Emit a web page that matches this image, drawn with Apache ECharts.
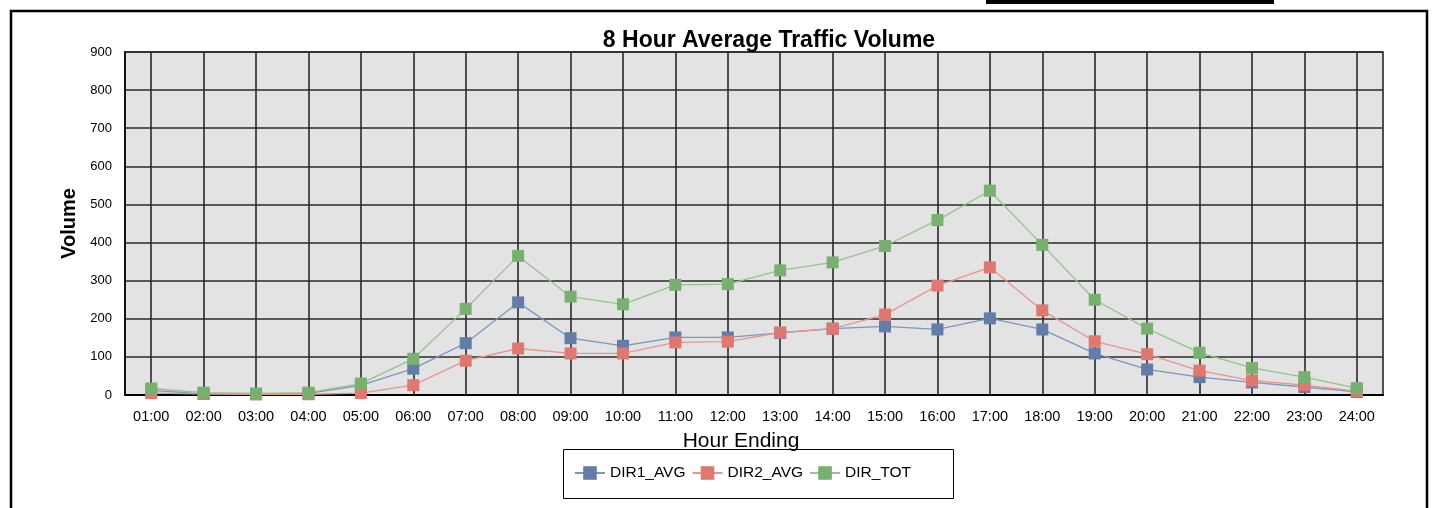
<!DOCTYPE html>
<html>
<head>
<meta charset="utf-8">
<title>8 Hour Average Traffic Volume</title>
<script src="https://cdn.jsdelivr.net/npm/echarts@6/dist/echarts.min.js"></script>
<style>
  html, body { margin: 0; padding: 0; background: #ffffff; }
  #chart { width: 1432px; height: 508px; }
</style>
</head>
<body>
<div id="chart"></div>
<script>
// Hour-ending categories
const hours = ['01:00','02:00','03:00','04:00','05:00','06:00','07:00','08:00',
               '09:00','10:00','11:00','12:00','13:00','14:00','15:00','16:00',
               '17:00','18:00','19:00','20:00','21:00','22:00','23:00','24:00'];

// Average volume per direction and the combined total
const dir1Avg = [12, 3, 2, 4, 25, 69, 136, 243, 149, 129, 151, 151, 163, 174, 180, 172, 201, 172, 109, 67, 47, 33, 21, 8];
const dir2Avg = [5, 3, 2, 2, 5, 26, 90, 122, 109, 109, 138, 140, 164, 174, 211, 287, 335, 222, 141, 107, 64, 38, 26, 10];
const dirTot  = [17, 6, 4, 6, 30, 95, 226, 365, 258, 238, 289, 291, 327, 348, 391, 459, 536, 394, 250, 174, 111, 71, 47, 18];

// Volume axis ticks
const yMin = 0, yMax = 900, yStep = 100;

const FONT = '"Liberation Sans", Arial, sans-serif';

function lineSeries(name, data, markerColor, lineColor) {
  return {
    name: name,
    type: 'line',
    data: data,
    symbol: 'rect',
    symbolSize: 12,
    itemStyle: { color: markerColor },
    lineStyle: { color: lineColor, width: 1.3 },
    emphasis: { disabled: true },
    animation: false
  };
}

const chart = echarts.init(document.getElementById('chart'), null, { renderer: 'canvas' });

chart.setOption({
  backgroundColor: '#ffffff',
  animation: false,
  title: {
    text: '8 Hour Average Traffic Volume',
    left: 764,
    textAlign: 'center',
    top: 24,
    textStyle: { fontFamily: FONT, fontSize: 23, fontWeight: 'bold', color: '#000' }
  },
  grid: {
    left: 125, right: 49, top: 52, bottom: 113,
    show: true,
    backgroundColor: '#e3e3e3',
    borderColor: '#1a1a1a',
    borderWidth: 1.5
  },
  legend: {
    left: 574,
    top: 465,
    itemWidth: 30,
    itemHeight: 17,
    itemGap: 6,
    padding: 0,
    textStyle: { fontFamily: FONT, fontSize: 15.5, color: '#000' },
    data: ['DIR1_AVG', 'DIR2_AVG', 'DIR_TOT']
  },
  xAxis: {
    type: 'category',
    data: hours,
    boundaryGap: true,
    name: 'Hour Ending',
    nameLocation: 'middle',
    nameGap: 36,
    nameTextStyle: { fontFamily: FONT, fontSize: 21, color: '#000', padding: [0, 26, 0, 0] },
    axisLine: { show: true, lineStyle: { color: '#000', width: 2 } },
    axisTick: { show: false },
    axisLabel: { interval: 0, margin: 14, fontFamily: FONT, fontSize: 14.5, color: '#000' },
    splitLine: { show: true, interval: 0, alignWithLabel: true, lineStyle: { color: '#2a2a2a', width: 1.6 } }
  },
  yAxis: {
    type: 'value',
    min: yMin,
    max: yMax,
    interval: yStep,
    name: 'Volume',
    nameLocation: 'middle',
    nameGap: 45,
    nameTextStyle: { fontFamily: FONT, fontSize: 20, fontWeight: 'bold', color: '#000' },
    axisLine: { show: true, lineStyle: { color: '#000', width: 1.5 } },
    axisTick: { show: false },
    axisLabel: { margin: 13, fontFamily: FONT, fontSize: 13, color: '#000' },
    splitLine: { show: true, lineStyle: { color: '#2a2a2a', width: 1.6 } }
  },
  series: [
    lineSeries('DIR1_AVG', dir1Avg, '#637ca8', '#7d95c0'),
    lineSeries('DIR2_AVG', dir2Avg, '#e07872', '#ea948e'),
    lineSeries('DIR_TOT', dirTot, '#78b070', '#93c58a')
  ],
  graphic: [
    // outer frame around the chart sheet
    { type: 'polyline', silent: true,
      shape: { points: [[11, 508], [11, 11], [1427, 11], [1427, 508]] },
      style: { stroke: '#000', lineWidth: 2.5, fill: null } },
    // heading bar above the frame
    { type: 'rect', silent: true,
      shape: { x: 986, y: 0, width: 288, height: 4 },
      style: { fill: '#000' } },
    // legend box
    { type: 'rect', silent: true, z: -1,
      shape: { x: 563.5, y: 449.5, width: 390, height: 49 },
      style: { stroke: '#000', lineWidth: 1, fill: '#fff' } }
  ]
});
</script>
</body>
</html>
